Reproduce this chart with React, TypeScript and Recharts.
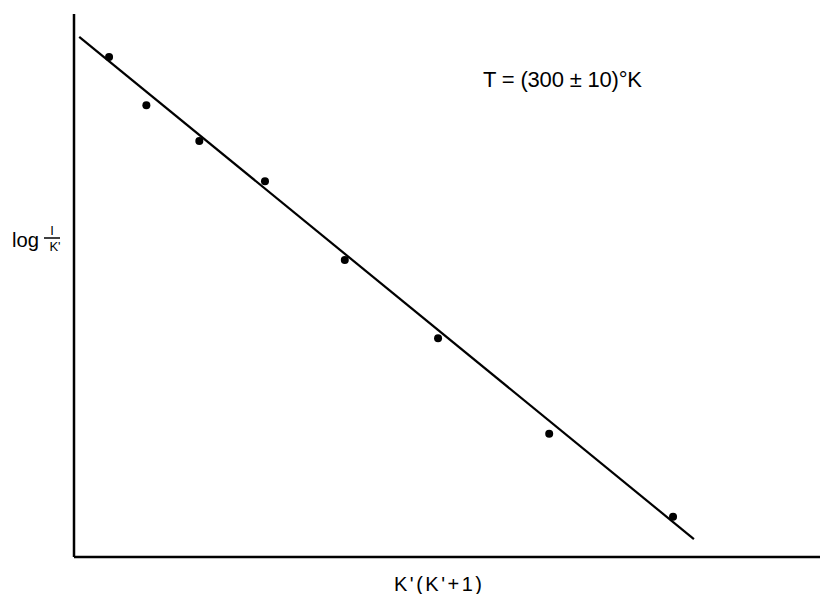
import React from "react";
import { ComposedChart, XAxis, YAxis, Line, Scatter, Customized } from "recharts";

// Measured points (arbitrary units: K'(K'+1) vs log I/K')
const xValues = [0.47, 0.97, 1.68, 2.56, 3.63, 4.88, 6.37, 8.03];
const yValues = [9.21, 8.32, 7.66, 6.92, 5.47, 4.03, 2.27, 0.74];

// Fitted straight line endpoints
const fitX = [0.07, 8.31];
const fitY = [9.58, 0.33];

const titleText = "T = (300 ± 10)°K";
const xLabel = "K'(K'+1)";
const yLabelLog = "log";
const yLabelNum = "I";
const yLabelDen = "K'";

const points = xValues.map((x, i) => ({ x, y: yValues[i] }));
const fit = fitX.map((x, i) => ({ x, y: fitY[i] }));

const FONT = "'Liberation Sans', Arial, sans-serif";

const Labels = () => (
  <g fill="#000" fontFamily={FONT}>
    <text x={483} y={87} fontSize={22} textLength={159} lengthAdjust="spacing">
      {titleText}
    </text>
    <text x={394} y={591} fontSize={20} textLength={88} lengthAdjust="spacing">
      {xLabel}
    </text>
    <text x={12} y={247} fontSize={21} textLength={27} lengthAdjust="spacingAndGlyphs">
      {yLabelLog}
    </text>
    <text x={52} y={235} fontSize={13} textAnchor="middle">
      {yLabelNum}
    </text>
    <line x1={44} x2={60} y1={238} y2={238} stroke="#000" strokeWidth={1.5} />
    <text x={55} y={251} fontSize={13} textAnchor="middle">
      {yLabelDen}
    </text>
  </g>
);

const Dot = (props: any) => {
  const { cx, cy } = props;
  if (cx == null || cy == null) return null;
  return <circle cx={cx} cy={cy} r={4} fill="#000" />;
};

export default function App() {
  return (
    <div style={{ position: "absolute", left: 0, top: 0, width: 820, height: 594, background: "#fff" }}>
      <ComposedChart
        width={820}
        height={594}
        margin={{ top: 14, right: 0, bottom: 7, left: 14 }}
      >
        <XAxis
          type="number"
          dataKey="x"
          domain={[0, 10]}
          height={30}
          tick={false}
          tickLine={false}
          axisLine={{ stroke: "#000", strokeWidth: 2.5 }}
          allowDataOverflow
        />
        <YAxis
          type="number"
          dataKey="y"
          domain={[0, 10]}
          width={60}
          tick={false}
          tickLine={false}
          axisLine={{ stroke: "#000", strokeWidth: 2.5 }}
          allowDataOverflow
        />
        <Line
          data={fit}
          dataKey="y"
          type="linear"
          stroke="#000"
          strokeWidth={2.2}
          dot={false}
          activeDot={false}
          isAnimationActive={false}
        />
        <Scatter data={points} dataKey="y" shape={<Dot />} isAnimationActive={false} />
        <Customized component={Labels} />
      </ComposedChart>
    </div>
  );
}
